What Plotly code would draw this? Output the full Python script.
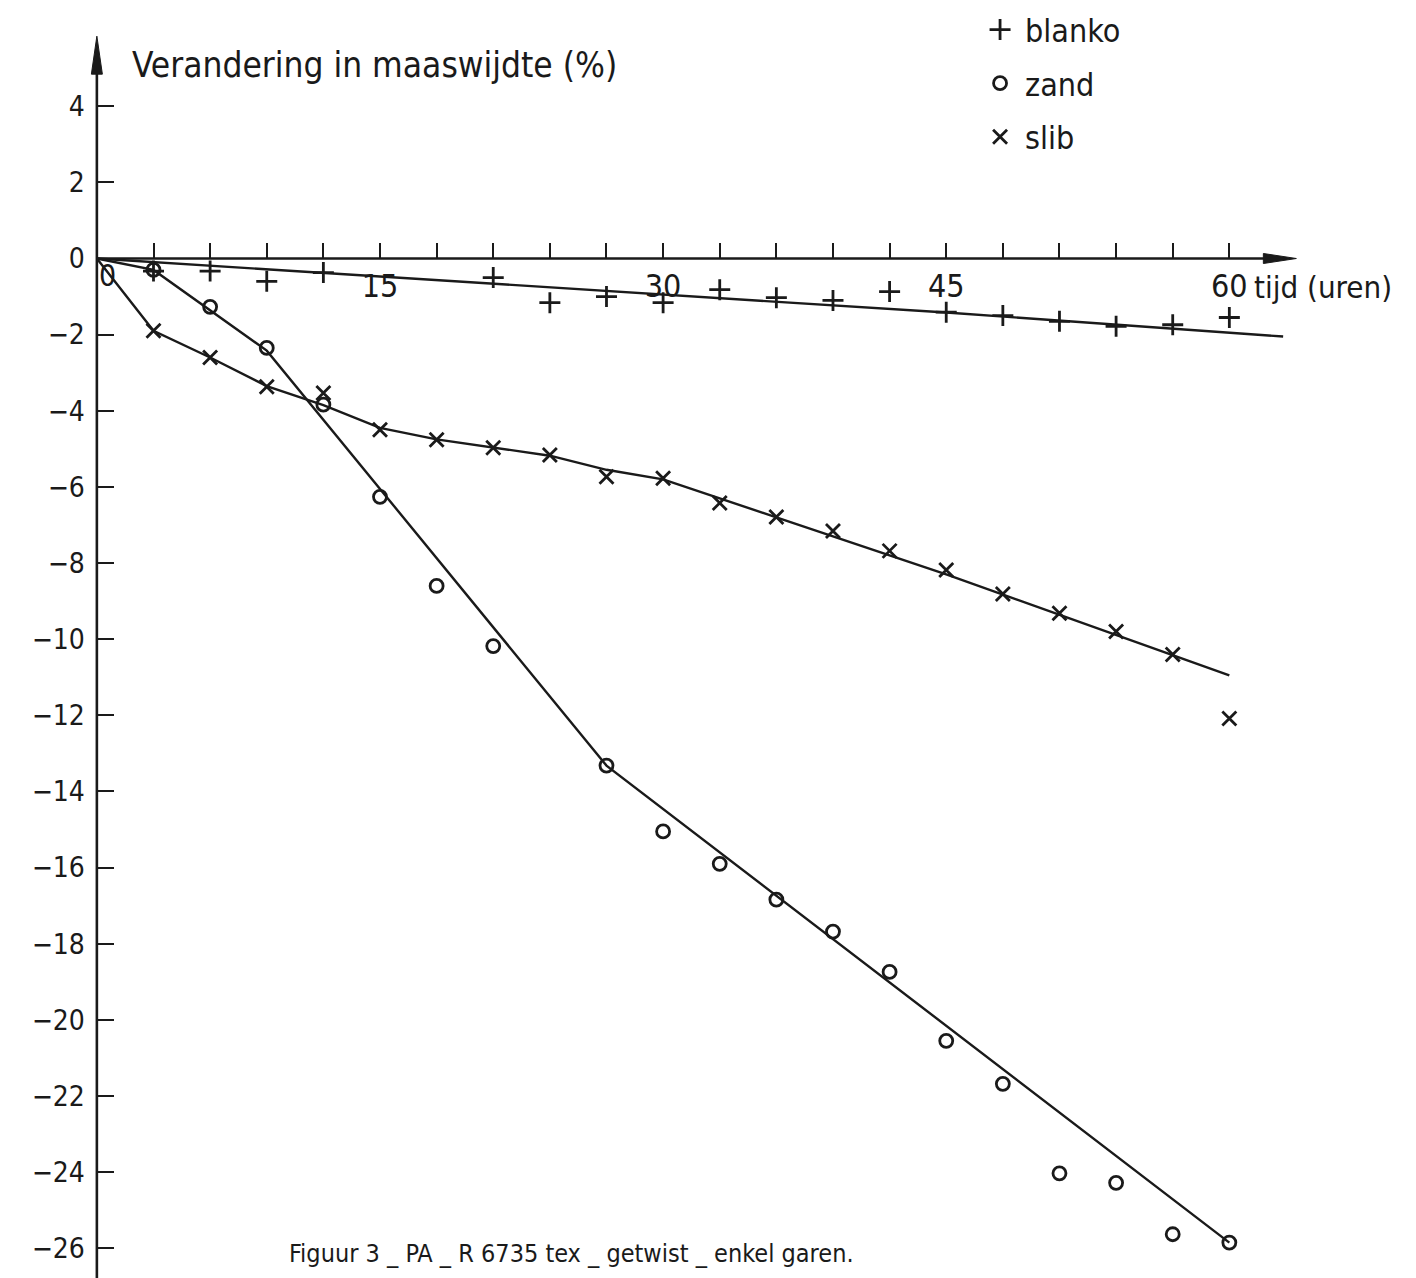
import plotly.graph_objects as go

# ---------------- data ----------------
t_blanko = [3, 6, 9, 12, 21, 24, 27, 30, 33, 36, 39, 42, 45, 48, 51, 54, 57, 60]
v_blanko = [-0.33, -0.33, -0.6, -0.37, -0.5, -1.16, -1.0, -1.16, -0.82, -1.03,
            -1.1, -0.87, -1.41, -1.5, -1.65, -1.78, -1.74, -1.55]

t_zand = [3, 6, 9, 12, 15, 18, 21, 27, 30, 33, 36, 39, 42, 45, 48, 51, 54, 57, 60]
v_zand = [-0.3, -1.27, -2.35, -3.84, -6.26, -8.6, -10.18, -13.32, -15.05, -15.9,
          -16.84, -17.68, -18.74, -20.55, -21.68, -24.03, -24.28, -25.63, -25.85]

t_slib = [3, 6, 9, 12, 15, 18, 21, 24, 27, 30, 33, 36, 39, 42, 45, 48, 51, 54, 57, 60]
v_slib = [-1.9, -2.6, -3.37, -3.53, -4.5, -4.76, -4.97, -5.16, -5.73, -5.77,
          -6.42, -6.79, -7.16, -7.68, -8.18, -8.81, -9.32, -9.8, -10.4, -12.08]

# hand-drawn trend lines
fit_blanko_t = [0, 12, 30, 45, 62.85]
fit_blanko_v = [0, -0.38, -0.95, -1.42, -2.05]
fit_zand_t = [0, 3, 9, 27, 60]
fit_zand_v = [0, -0.3, -2.42, -13.32, -25.85]
fit_slib_t = [0, 3, 6, 9, 12, 15, 18, 21, 24, 27, 30, 36, 45, 60]
fit_slib_v = [0, -1.9, -2.6, -3.35, -3.85, -4.45, -4.75, -4.97, -5.18, -5.55,
              -5.8, -6.8, -8.3, -10.95]

x_tickvals = [3, 6, 9, 12, 15, 18, 21, 24, 27, 30, 33, 36, 39, 42, 45, 48, 51, 54, 57, 60]
x_ticktext = ["" if v % 15 else str(v) for v in x_tickvals]
y_tickvals = list(range(4, -27, -2))

FONT = "DejaVu Sans Condensed, Liberation Sans Narrow, Roboto Condensed, DejaVu Sans, sans-serif"
INK = "#1a1a1a"

# figure geometry (page has an 8px body margin)
W, H = 1408, 1270
XSCALE = 18.877   # px per hour
YSCALE = 38.07    # px per percent
X0PX = 88.7       # figure column of t = 0
Y0PX = 250.5      # figure row of y = 0
x_min = -1.0
ML = X0PX + x_min * XSCALE
x_max = x_min + (W - ML) / XSCALE
y_top = Y0PX / YSCALE
y_bot = -(H - Y0PX) / YSCALE
x_arrow_tip = 63.55
y_arrow_tip = 5.84

# arrow head sizes in data units
ya_half_w = 5.5 / XSCALE
ya_len = 38 / YSCALE
xa_len = 33 / XSCALE
xa_half_w = 5 / YSCALE

fig = go.Figure()

line_style = dict(color=INK, width=2.4)
for t, v in [(fit_blanko_t, fit_blanko_v), (fit_zand_t, fit_zand_v), (fit_slib_t, fit_slib_v)]:
    fig.add_trace(go.Scatter(x=t, y=v, mode="lines", line=line_style,
                             showlegend=False, hoverinfo="skip"))

mk_line = dict(color=INK, width=2.8)
fig.add_trace(go.Scatter(x=t_blanko, y=v_blanko, mode="markers", name="blanko",
                         legendgroup="b",
                         marker=dict(symbol="cross-thin-open", size=15, line=mk_line, color=INK)))
fig.add_trace(go.Scatter(x=t_zand, y=v_zand, mode="markers", name="zand",
                         legendgroup="z",
                         marker=dict(symbol="circle-open", size=13, line=mk_line, color=INK)))
fig.add_trace(go.Scatter(x=t_slib, y=v_slib, mode="markers", name="slib",
                         legendgroup="s",
                         marker=dict(symbol="x-thin-open", size=14, line=mk_line, color=INK)))

shapes = [
    # y axis line
    dict(type="line", x0=0, x1=0, y0=y_bot, y1=y_arrow_tip - ya_len * 0.8,
         line=dict(color=INK, width=2.6), layer="above"),
    # x axis line
    dict(type="line", x0=0, x1=x_arrow_tip - xa_len * 0.8, y0=0, y1=0,
         line=dict(color=INK, width=2.6), layer="above"),
    # arrow heads
    dict(type="path",
         path=f"M 0 {y_arrow_tip} L {-ya_half_w} {y_arrow_tip - ya_len} "
              f"L {ya_half_w} {y_arrow_tip - ya_len} Z",
         fillcolor=INK, line=dict(color=INK, width=1), layer="above"),
    dict(type="path",
         path=f"M {x_arrow_tip} 0 L {x_arrow_tip - xa_len} {xa_half_w} "
              f"L {x_arrow_tip - xa_len} {-xa_half_w} Z",
         fillcolor=INK, line=dict(color=INK, width=1), layer="above"),
]

annotations = [
    dict(x=(130 - 8 - X0PX) / XSCALE, y=(Y0PX - 57) / YSCALE, xref="x", yref="y",
         text="Verandering in maaswijdte (%)",
         showarrow=False, xanchor="left", yanchor="middle",
         font=dict(family=FONT, size=35, color=INK)),
    dict(x=0, y=0, xref="x", yref="y", text="0", showarrow=False,
         xanchor="center", yanchor="middle", xshift=11, yshift=-17,
         font=dict(family=FONT, size=30, color=INK)),
    dict(x=60, y=0, xref="x", yref="y", text="tijd (uren)", showarrow=False,
         xanchor="left", yanchor="middle", xshift=23, yshift=-28,
         font=dict(family=FONT, size=31, color=INK)),
    dict(x=(287 - 8 - X0PX) / XSCALE, y=-26, xref="x", yref="y",
         text="Figuur 3 _ PA _ R 6735 tex _ getwist _ enkel garen.",
         showarrow=False, xanchor="left", yanchor="middle", yshift=-5,
         font=dict(family=FONT, size=25, color=INK)),
]

fig.update_layout(
    width=W, height=H,
    margin=dict(l=ML, r=0, t=0, b=0, autoexpand=False),
    paper_bgcolor="white", plot_bgcolor="white",
    font=dict(family=FONT, color=INK),
    showlegend=True,
    legend=dict(x=(975 - 8 - ML) / (W - ML), y=1.0045, xanchor="left", yanchor="top",
                bgcolor="rgba(0,0,0,0)", font=dict(family=FONT, size=32, color=INK),
                tracegroupgap=9, itemsizing="trace", itemwidth=40),
    shapes=shapes,
    annotations=annotations,
    xaxis=dict(range=[x_min, x_max], showgrid=False, zeroline=False, showline=False,
               tickvals=x_tickvals, ticktext=x_ticktext, ticks="inside",
               ticklen=16, tickwidth=2.2, tickcolor=INK,
               anchor="free", position=(0 - y_bot) / (y_top - y_bot),
               ticklabelstandoff=5,
               tickfont=dict(family=FONT, size=32, color=INK)),
    yaxis=dict(range=[y_bot, y_top], showgrid=False, zeroline=False, showline=False,
               tickvals=y_tickvals, ticks="inside", ticklen=16, tickwidth=2.2,
               tickcolor=INK, ticklabelstandoff=12,
               anchor="free", position=(0 - x_min) / (x_max - x_min),
               tickfont=dict(family=FONT, size=28, color=INK)),
)

fig.write_html("out.html")
